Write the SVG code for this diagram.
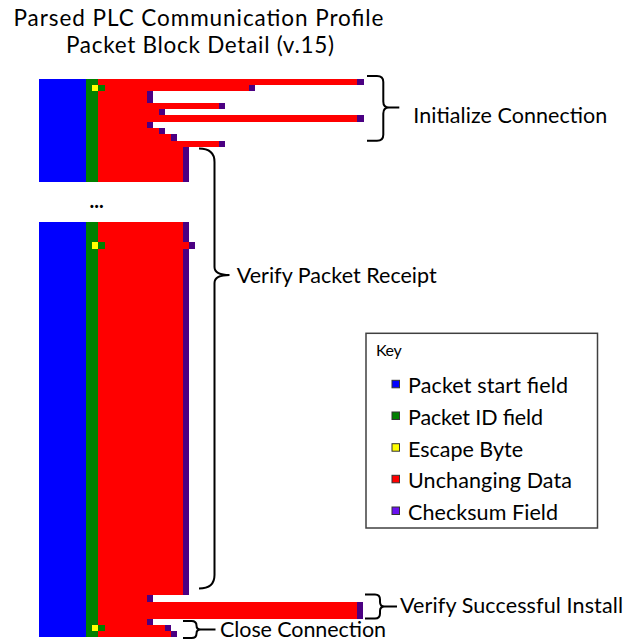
<svg xmlns="http://www.w3.org/2000/svg" width="626" height="641" viewBox="0 0 626 641">
<style>
.t{font-family:Lato,"Liberation Sans",sans-serif;fill:#000;}
.lbl{font-size:21.5px;}
.title{font-size:22.5px;}
.keyt{font-size:21.5px;}
.blk{shape-rendering:crispEdges;}
.b{fill:#0000FF;}
.g{fill:#008000;}
.y{fill:#FFFF00;}
.r{fill:#FF0000;}
.p{fill:#4B0082;}
.brace{fill:none;stroke:#000;stroke-width:2;stroke-linecap:butt;}
.ks{stroke:#333;stroke-width:1;}
</style>
<rect width="626" height="641" fill="#fff"/>
<g id="title">
<text class="t title" x="198.5" y="26" text-anchor="middle" textLength="370">Parsed PLC Communication Profile</text>
<text class="t title" x="200" y="53" text-anchor="middle" textLength="268">Packet Block Detail (v.15)</text>
</g>
<g id="block-top" class="blk">
<rect class="b" x="39" y="79" width="47" height="103"/>
<rect class="g" x="86" y="79" width="12" height="103"/>
<rect class="r" x="98" y="79" width="259" height="6"/><rect class="p" x="357" y="79" width="7" height="6"/>
<rect class="r" x="98" y="85" width="151" height="6"/><rect class="p" x="249" y="85" width="6" height="6"/>
<rect class="y" x="92" y="85" width="6" height="6"/><rect class="g" x="98" y="85" width="7" height="6"/>
<rect class="r" x="98" y="91" width="49" height="12"/><rect class="p" x="147" y="91" width="6" height="12"/>
<rect class="r" x="98" y="103" width="121" height="6"/><rect class="p" x="219" y="103" width="6" height="6"/>
<rect class="r" x="98" y="109" width="61" height="6"/><rect class="p" x="159" y="109" width="6" height="6"/>
<rect class="r" x="98" y="115" width="259" height="7"/><rect class="p" x="357" y="115" width="7" height="7"/>
<rect class="r" x="98" y="122" width="49" height="6"/><rect class="p" x="147" y="122" width="6" height="6"/>
<rect class="r" x="98" y="128" width="61" height="6"/><rect class="p" x="159" y="128" width="6" height="6"/>
<rect class="r" x="98" y="134" width="73" height="7"/><rect class="p" x="171" y="134" width="6" height="7"/>
<rect class="r" x="98" y="141" width="121" height="6"/><rect class="p" x="219" y="141" width="6" height="6"/>
<rect class="r" x="98" y="147" width="85" height="35"/><rect class="p" x="183" y="147" width="6" height="35"/>
</g>
<g id="ellipsis">
<text class="t" x="96.5" y="207.5" font-size="20" font-weight="bold" text-anchor="middle">...</text>
</g>
<g id="block-main" class="blk">
<rect class="b" x="39" y="222" width="47" height="415"/>
<rect class="g" x="86" y="222" width="12" height="415"/>
<rect class="r" x="98" y="222" width="85" height="373"/><rect class="p" x="183" y="222" width="6" height="373"/>
<rect class="r" x="98" y="242" width="91" height="7"/><rect class="p" x="189" y="242" width="6" height="7"/>
<rect class="y" x="92" y="242" width="6" height="7"/><rect class="g" x="98" y="242" width="7" height="7"/>
<rect class="r" x="98" y="595" width="49" height="7"/><rect class="p" x="147" y="595" width="6" height="7"/>
<rect class="r" x="98" y="602" width="259" height="17"/><rect class="p" x="357" y="602" width="6" height="17"/>
<rect class="r" x="98" y="619" width="49" height="6"/><rect class="p" x="147" y="619" width="6" height="6"/>
<rect class="r" x="98" y="625" width="67" height="6"/><rect class="p" x="165" y="625" width="6" height="6"/>
<rect class="y" x="92" y="625" width="6" height="6"/><rect class="g" x="98" y="625" width="7" height="6"/>
<rect class="r" x="98" y="631" width="73" height="6"/><rect class="p" x="171" y="631" width="6" height="6"/>
</g>
<g id="connectors">
<path class="brace" d="M367,76 H377 Q383.3,76 383.3,82 V101.5 Q383.3,107.5 389,107.5 H399.3 M389,107.5 Q383.3,107.5 383.3,113.5 V134.7 Q383.3,140.7 377,140.7 H367"/>
<path class="brace" d="M199,148.5 Q214.5,148.5 214.5,162 V267 Q214.5,275 229.5,275 Q214.5,275 214.5,283 V575 Q214.5,588.5 199,588.5"/>
<path class="brace" d="M365,594.5 H375 Q380,594.5 380,599.5 V602 Q380,606.5 384.5,606.5 H397 M384.5,606.5 Q380,606.5 380,611 V613.5 Q380,618.5 375,618.5 H365"/>
<path class="brace" d="M183,621 H191.5 Q196.5,621 196.5,625.5 V625.5 Q196.5,629.5 200.5,629.5 H215.5 M200.5,629.5 Q196.5,629.5 196.5,633.5 V633.5 Q196.5,638 191.5,638 H183"/>
</g>
<g id="label-init"><text class="t lbl" x="413.3" y="123" textLength="194">Initialize Connection</text></g>
<g id="label-verify"><text class="t lbl" x="236.7" y="283.3" textLength="200">Verify Packet Receipt</text></g>
<g id="label-install"><text class="t lbl" x="400" y="613.3" textLength="223">Verify Successful Install</text></g>
<g id="label-close"><text class="t lbl" x="220" y="636.7" textLength="166">Close Connection</text></g>
<g id="key">
<rect x="366" y="333.3" width="231.5" height="194.7" fill="#fff" stroke="#404040" stroke-width="1.5"/>
<text class="t" x="376" y="356" font-size="16" textLength="25.7">Key</text>
<rect class="ks" x="392" y="380.3" width="7.5" height="7.5" fill="#0000FF"/>
<text class="t keyt" x="408" y="393.3" textLength="160">Packet start field</text>
<rect class="ks" x="392" y="412" width="7.5" height="7.5" fill="#008000"/>
<text class="t keyt" x="408" y="425" textLength="135">Packet ID field</text>
<rect class="ks" x="392" y="443.7" width="7.5" height="7.5" fill="#FFFF00"/>
<text class="t keyt" x="408" y="456.7" textLength="115">Escape Byte</text>
<rect class="ks" x="392" y="475.3" width="7.5" height="7.5" fill="#FF0000"/>
<text class="t keyt" x="408" y="488.3" textLength="164">Unchanging Data</text>
<rect class="ks" x="392" y="507" width="7.5" height="7.5" fill="#6A10F0"/>
<text class="t keyt" x="408" y="520" textLength="150">Checksum Field</text>
</g>
</svg>
